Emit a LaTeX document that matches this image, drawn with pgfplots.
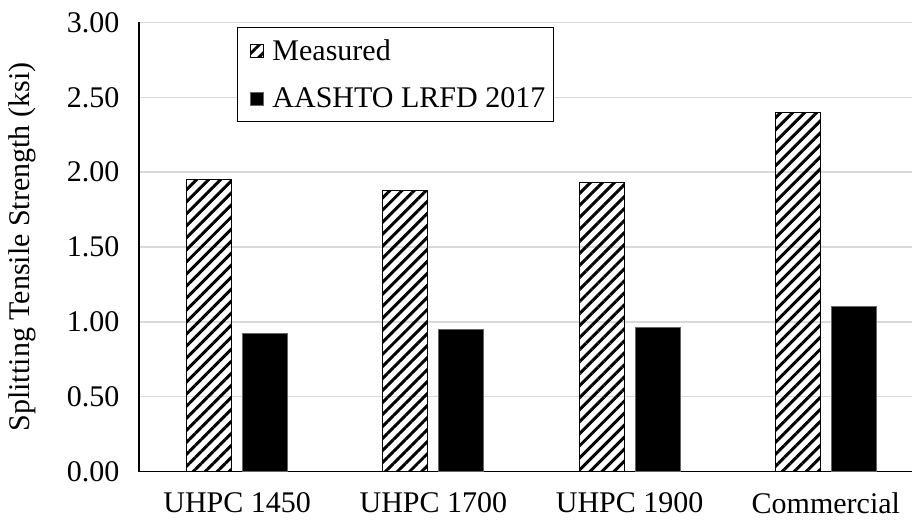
\documentclass[border=0pt]{standalone}
\usepackage{fontspec}
\setmainfont{Liberation Serif}
\usepackage{pgfplots}
\pgfplotsset{compat=1.18}
\usetikzlibrary{patterns.meta,calc}

\definecolor{gridgray}{HTML}{D9D9D9}

\begin{document}
\begin{tikzpicture}
  \begin{axis}[
      scale only axis,
      width=785bp, height=449bp,
      ybar=11bp,
      bar width=45bp,
      xmin=-0.5, xmax=3.5,
      ymin=0, ymax=3,
      ytick={0,0.5,...,3},
      xtick=data,
      xticklabels={UHPC 1450,UHPC 1700,UHPC 1900,Commercial},
      ymajorgrids,
      grid style={gridgray, line width=1.5bp},
      axis x line*=bottom,
      axis y line*=left,
      x axis line style={black, line width=1.2bp},
      y axis line style={black, line width=1.2bp},
      tick style={draw=none},
      font=\fontsize{30bp}{34bp}\selectfont,
      /pgf/number format/assume math mode=true,
      yticklabel style={/pgf/number format/fixed, /pgf/number format/fixed zerofill,
        /pgf/number format/precision=2, xshift=-16bp},
      xticklabel style={yshift=-13bp},
      ylabel={Splitting Tensile Strength (ksi)},
      ylabel style={at={(axis description cs:-0.149,0.5)}, anchor=center},
      legend style={at={(237bp-139bp,449bp-4.5bp)}, anchor=north west, draw=black, line width=1bp,
        fill=white, font=\fontsize{30bp}{34bp}\selectfont, row sep=22bp,
        inner xsep=6bp, inner ysep=10bp, cells={anchor=west}},
      legend image code/.code={%
        \path[draw=none, fill=none] (0bp,0bp) -- (27bp,0bp);
        \draw[#1, line width=0.6bp] (7bp,-6.5bp) rectangle (20bp,6.5bp);},
    ]
    \addplot[draw=black, line width=1.2bp, pattern={Lines[angle=45, distance=8.5bp, line width=3bp]}]
      coordinates {(0,1.95) (1,1.88) (2,1.93) (3,2.40)};
    \addlegendentry{Measured}
    \addplot[draw=black!60, line width=0.8bp, fill=black]
      coordinates {(0,0.92) (1,0.95) (2,0.96) (3,1.10)};
    \addlegendentry{AASHTO LRFD 2017}
  \end{axis}
  \pgfresetboundingbox
  \path ($(current axis.south west)+(-139bp,-49bp)$) rectangle ($(current axis.north east)+(-12bp,22.5bp)$);
\end{tikzpicture}
\end{document}
